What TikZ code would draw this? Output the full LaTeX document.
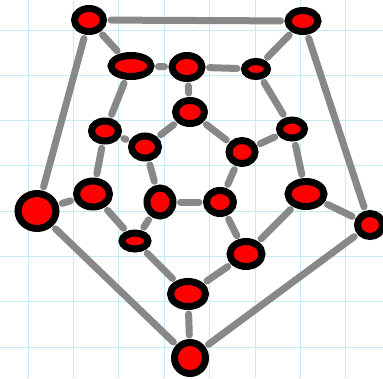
\documentclass[tikz,border=0pt]{standalone}
\usepackage{xcolor}
\definecolor{gridcyan}{RGB}{196,236,246}
\definecolor{linkgray}{RGB}{136,136,136}
\definecolor{vtxred}{RGB}{255,0,0}
\usepackage{tikz}
\usetikzlibrary{shapes.geometric}

\begin{document}
\begin{tikzpicture}[x=1pt, y=-1pt,
  vtx/.style={ellipse, draw=black, line width=7pt, fill=vtxred, inner sep=0pt},
  link/.style={draw=linkgray, line width=7pt, line cap=round,
               shorten >=4pt, shorten <=4pt},
  gridline/.style={draw=gridcyan, line width=1pt}
]
\useasboundingbox (0,0) rectangle (383,378);

% Grid paper
\foreach \k in {0,...,7} {
  \draw[gridline] (28+45.4*\k,0) -- (28+45.4*\k,378);
  \draw[gridline] (0,30+45.3*\k) -- (383,30+45.3*\k);
}

% Vertices
\node[vtx, minimum width=29pt, minimum height=23pt] (a1)  at ( 89, 20) {};
\node[vtx, minimum width=30pt, minimum height=21pt] (a2)  at (303, 21) {};
\node[vtx, minimum width=40pt, minimum height=21pt] (b1)  at (131, 66) {};
\node[vtx, minimum width=30pt, minimum height=23pt] (b2)  at (187, 67) {};
\node[vtx, minimum width=23pt, minimum height=15pt] (b3)  at (256, 69) {};
\node[vtx, minimum width=29pt, minimum height=23pt] (c1)  at (190,112) {};
\node[vtx, minimum width=27pt, minimum height=20pt] (c2)  at (105,131) {};
\node[vtx, minimum width=27pt, minimum height=22pt] (c3)  at (145,147) {};
\node[vtx, minimum width=26pt, minimum height=23pt] (c4)  at (242,152) {};
\node[vtx, minimum width=25pt, minimum height=18pt] (c5)  at (292,129) {};
\node[vtx, minimum width=38pt, minimum height=35pt] (d1)  at ( 37,211) {};
\node[vtx, minimum width=33pt, minimum height=26pt] (d2)  at ( 93,194) {};
\node[vtx, minimum width=26pt, minimum height=28pt] (d3)  at (160,202) {};
\node[vtx, minimum width=27pt, minimum height=23pt] (d4)  at (220,202) {};
\node[vtx, minimum width=36pt, minimum height=25pt] (d5)  at (306,194) {};
\node[vtx, minimum width=25pt, minimum height=23pt] (d6)  at (370,225) {};
\node[vtx, minimum width=26pt, minimum height=16pt] (e1)  at (135,241) {};
\node[vtx, minimum width=32pt, minimum height=25pt] (e2)  at (246,254) {};
\node[vtx, minimum width=35pt, minimum height=25pt] (e3)  at (188,294) {};
\node[vtx, minimum width=31pt, minimum height=31pt] (f1)  at (190,358) {};

% Edges
\path[link] (a1) -- (a2);
\path[link] (a1) -- (d1);
\path[link] (a1) -- (b1);
\path[link] (a2) -- (b3);
\path[link] (a2) -- (d6);
\path[link] (b1) -- (b2);
\path[link] (b2) -- (b3);
\path[link] (b2) -- (c1);
\path[link] (b1) -- (c2);
\path[link] (b3) -- (c5);
\path[link] (c1) -- (c3);
\path[link] (c1) -- (c4);
\path[link] (c2) -- (c3);
\path[link] (c2) -- (d2);
\path[link] (c3) -- (d3);
\path[link] (c4) -- (c5);
\path[link] (c4) -- (d4);
\path[link] (c5) -- (d5);
\path[link] (d1) -- (d2);
\path[link] (d1) -- (f1);
\path[link] (d2) -- (e1);
\path[link] (d3) -- (e1);
\path[link] (d3) -- (d4);
\path[link] (d4) -- (e2);
\path[link] (d5) -- (e2);
\path[link] (d5) -- (d6);
\path[link] (d6) -- (f1);
\path[link] (e1) -- (e3);
\path[link] (e2) -- (e3);
\path[link] (e3) -- (f1);
\end{tikzpicture}
\end{document}
